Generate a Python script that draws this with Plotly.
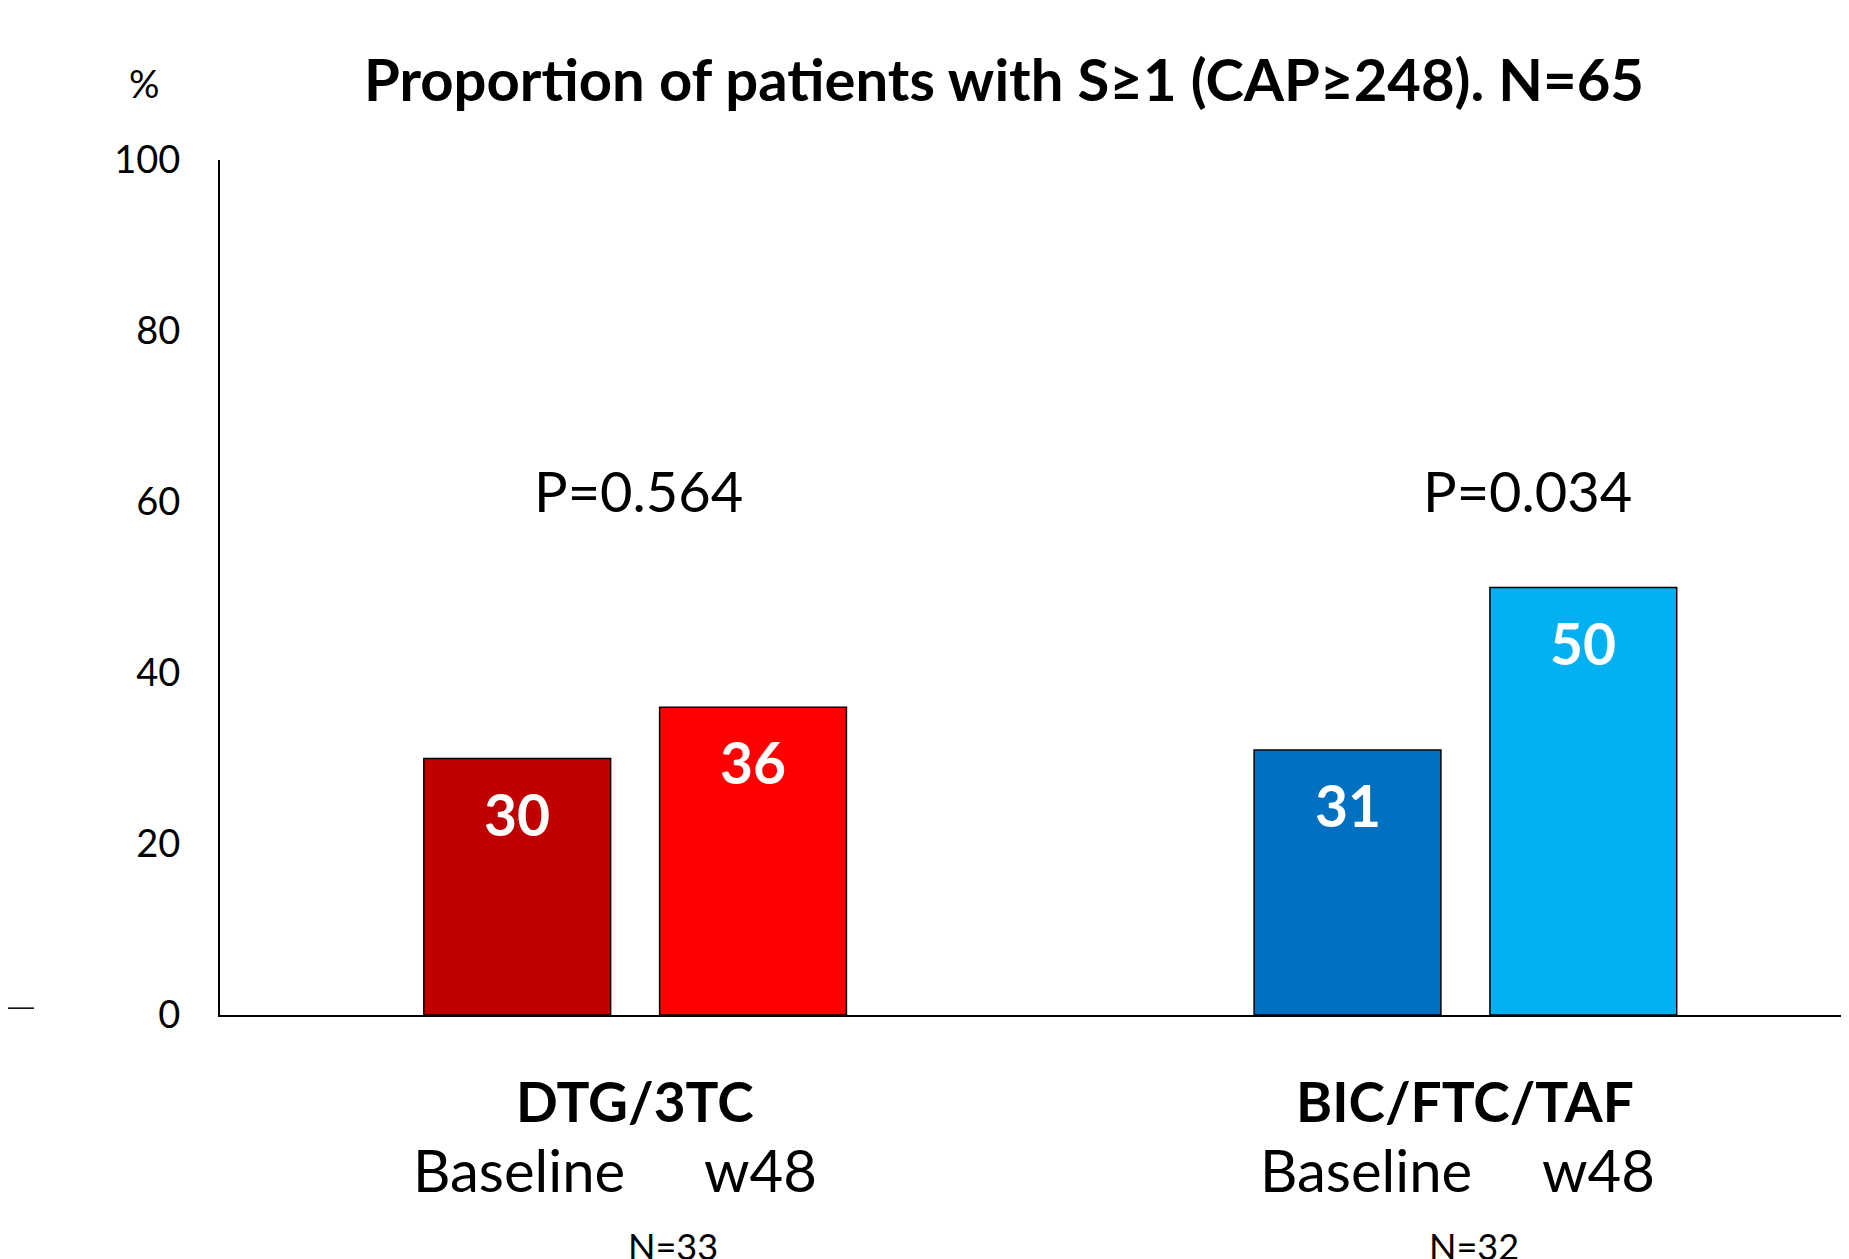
import plotly.graph_objects as go

# ---- data ----
groups = ["DTG/3TC", "BIC/FTC/TAF"]
group_n = ["N=33", "N=32"]
p_values = ["P=0.564", "P=0.034"]
timepoints = ["Baseline", "w48"]
baseline_vals = [30, 31]
w48_vals = [36, 50]
baseline_colors = ["#C00000", "#0070C0"]
w48_colors = ["#FF0000", "#00B0F0"]
y_ticks = [0, 20, 40, 60, 80, 100]

FONT = "Lato"
group_pos = [0, 1]
bar_offset = 0.142
bar_width = 0.225

W, H = 1841, 1251  # page body has an 8px margin
L, T, B = 212, 152, 244

fig = go.Figure()
series = [(baseline_vals, baseline_colors, -bar_offset), (w48_vals, w48_colors, bar_offset)]
for vals, cols, off in series:
    fig.add_trace(go.Bar(
        x=[g + off for g in group_pos], y=vals, width=bar_width,
        marker=dict(color=cols, line=dict(color="black", width=1.5)),
        showlegend=False, hoverinfo="skip",
    ))

annotations = []
# value labels inside bars
for vals, cols, off in series:
    for g, v in zip(group_pos, vals):
        annotations.append(dict(x=g + off, y=v, xref="x", yref="y", text=f"<b>{v}</b>",
                                showarrow=False, yanchor="middle", yshift=-55,
                                font=dict(family=FONT, size=57, color="white")))
# p-values
p_shift = [3, 62]
for g, p, xs in zip(group_pos, p_values, p_shift):
    annotations.append(dict(x=g, y=61.3, xref="x", yref="y", text=p, showarrow=False,
                            xshift=xs, font=dict(family=FONT, size=56, color="black")))
# group labels
for g, name, n in zip(group_pos, groups, group_n):
    annotations.append(dict(x=g, y=0, xref="x", yref="y", text=f"<b>{name}</b>", showarrow=False,
                            yanchor="middle", yshift=-86,
                            font=dict(family=FONT, size=55, color="black")))
    annotations.append(dict(x=g, y=0, xref="x", yref="y", text=n, showarrow=False,
                            yanchor="middle", yshift=-231, xshift=[38, 9][g],
                            font=dict(family=FONT, size=36, color="black")))
# timepoint labels
tp_shift = [[2, 7], [18, 15]]
for g in group_pos:
    for i, (tp, off) in enumerate(zip(timepoints, [-bar_offset, bar_offset])):
        annotations.append(dict(x=g + off, y=0, xref="x", yref="y", text=tp, showarrow=False,
                                yanchor="middle", yshift=-154, xshift=tp_shift[g][i],
                                font=dict(family=FONT, size=58, color="black")))
# percent sign
annotations.append(dict(x=0, y=1, xref="paper", yref="paper", text="%", showarrow=False,
                        xanchor="center", yanchor="middle", xshift=-76, yshift=77,
                        font=dict(family=FONT, size=38, color="black")))

fig.update_layout(
    width=W, height=H,
    margin=dict(l=L, r=0, t=T, b=B),
    paper_bgcolor="white", plot_bgcolor="white",
    title=dict(text="<b>Proportion of patients with S≥1 (CAP≥248). N=65</b>",
               x=996 / W, xref="container", xanchor="center",
               y=1 - 73 / H, yref="container", yanchor="middle",
               font=dict(family=FONT, size=58, color="black")),
    xaxis=dict(range=[-0.5, 1.462], showgrid=False, zeroline=False, showticklabels=False,
               ticks="", showline=True, linecolor="black", linewidth=2),
    yaxis=dict(range=[0, 100], tickvals=y_ticks, showgrid=False, zeroline=False,
               ticks="", showline=True, linecolor="black", linewidth=2,
               ticklabelstandoff=30, tickfont=dict(family=FONT, size=38, color="black")),
    annotations=annotations,
    shapes=[dict(type="line", xref="paper", yref="y", xsizemode="pixel", xanchor=0,
                 x0=-L, x1=-L + 26, y0=0.8, y1=0.8, line=dict(color="black", width=1.5))],
)

fig.write_html("out.html")
